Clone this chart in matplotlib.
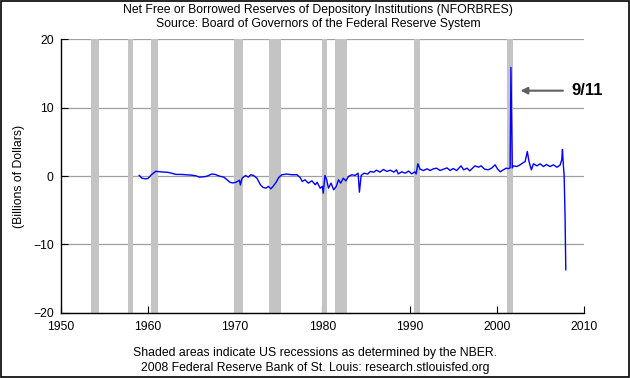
import matplotlib
matplotlib.use('Agg')
import matplotlib.pyplot as plt
from matplotlib.patches import Rectangle

plt.rcParams['font.family'] = ['Liberation Sans', 'DejaVu Sans']

# NBER recessions (start, end) in decimal years
recessions = [(1953.50, 1954.38), (1957.67, 1958.33), (1960.33, 1961.17),
              (1969.92, 1970.92), (1973.83, 1975.25), (1980.00, 1980.50),
              (1981.50, 1982.88), (1990.50, 1991.17), (2001.17, 2001.88)]

# NFORBRES (billions of dollars)
years = [1959.0, 1959.1, 1959.3, 1959.7, 1960.0, 1960.4, 1960.9, 1961.3, 1961.7, 1962.3,
         1962.8, 1963.2, 1963.8, 1964.3, 1964.9, 1965.5, 1965.9, 1966.4, 1966.8, 1967.3,
         1967.7, 1968.2, 1968.7, 1969.0, 1969.4, 1969.7, 1970.1, 1970.5, 1970.6, 1970.8,
         1971.2, 1971.5, 1971.8, 1972.1, 1972.5, 1972.9, 1973.2, 1973.55, 1973.8, 1974.1,
         1974.4, 1974.7, 1975.0, 1975.35, 1975.9, 1976.5, 1977.1, 1977.45, 1977.7, 1978.0,
         1978.4, 1978.8, 1979.2, 1979.4, 1979.75, 1980.0, 1980.1, 1980.3, 1980.5, 1980.7,
         1981.0, 1981.3, 1981.6, 1981.85, 1982.1, 1982.4, 1982.7, 1983.0, 1983.4, 1983.75,
         1984.1, 1984.25, 1984.45, 1984.8, 1985.2, 1985.5, 1985.9, 1986.2, 1986.6, 1987.0,
         1987.4, 1987.8, 1988.2, 1988.5, 1988.7, 1989.1, 1989.5, 1989.9, 1990.25, 1990.6,
         1990.75, 1990.95, 1991.2, 1991.6, 1992.0, 1992.35, 1992.75, 1993.1, 1993.5, 1993.9,
         1994.3, 1994.65, 1995.0, 1995.4, 1995.9, 1996.2, 1996.6, 1996.9, 1997.5, 1997.9,
         1998.2, 1998.6, 1999.0, 1999.4, 1999.8, 2000.1, 2000.4, 2000.75, 2001.07, 2001.35,
         2001.53, 2001.62, 2001.70, 2001.78, 2001.9, 2002.3, 2002.67, 2002.95, 2003.25, 2003.5,
         2003.7, 2003.97, 2004.2, 2004.6, 2004.97, 2005.35, 2005.7, 2006.1, 2006.5, 2006.9,
         2007.25, 2007.45, 2007.53, 2007.64, 2007.72, 2007.83, 2007.91]
values = [0.1, 0.0, -0.3, -0.4, -0.35, 0.2, 0.7, 0.65, 0.6, 0.55,
          0.4, 0.25, 0.25, 0.2, 0.15, 0.05, -0.15, -0.1, 0.0, 0.3,
          0.25, 0.0, -0.15, -0.45, -0.9, -1.0, -0.9, -0.6, -1.3, -0.3,
          0.1, -0.15, 0.2, 0.1, -0.3, -1.27, -1.66, -1.76, -1.5, -1.86,
          -1.42, -0.9, -0.2, 0.19, 0.3, 0.2, 0.2, -0.2, -0.78, -0.54,
          -1.03, -0.69, -1.27, -0.9, -1.76, -1.5, -2.5, 0.1, -0.54, -1.76,
          -1.03, -2.0, -1.5, -0.54, -1.03, -0.3, -0.7, -0.05, 0.2, 0.1,
          0.43, -2.35, 0.1, 0.43, 0.3, 0.68, 0.58, 0.87, 0.58, 0.97,
          0.68, 0.87, 0.58, 0.92, 0.33, 0.63, 0.43, 0.73, 0.33, 0.63,
          0.33, 1.8, 1.02, 0.82, 1.07, 0.82, 1.07, 1.16, 0.82, 1.02,
          1.2, 0.82, 1.11, 0.82, 1.5, 0.92, 1.16, 0.77, 1.5, 1.31,
          1.5, 1.02, 0.92, 1.16, 1.65, 1.02, 0.63, 0.92, 1.16, 1.1,
          1.2, 15.9, 9.0, 1.2, 1.5, 1.4, 1.65, 1.9, 2.13, 3.6,
          2.1, 0.92, 1.8, 1.5, 1.8, 1.4, 1.7, 1.4, 1.65, 1.3,
          1.6, 2.4, 3.9, 1.4, 0.2, -6.1, -13.7]

x_ticks = [1950, 1960, 1970, 1980, 1990, 2000, 2010]
y_ticks = [-20, -10, 0, 10, 20]

fig = plt.figure(figsize=(6.3, 3.78), dpi=100)
ax = fig.add_axes([0.0963, 0.1725, 0.8307, 0.7232])

for y in y_ticks:
    ax.axhline(y, color='#a0a0a0', lw=0.9, zorder=1)
for start, end in recessions:
    ax.axvspan(start, end, color='#c4c4c4', lw=0, zorder=2)
ax.plot(years, values, color='#0000ff', lw=1.0, zorder=3)

ax.set_xlim(1950, 2010)
ax.set_ylim(-20, 20)
ax.set_xticks(x_ticks)
ax.set_yticks(y_ticks)
ax.tick_params(direction='in', length=5, width=0.8, labelsize=8.8, colors='black')
ax.tick_params(axis='y', pad=5)
ax.tick_params(axis='x', pad=6)
for side in ['top', 'right']:
    ax.spines[side].set_visible(False)
for side in ['left', 'bottom']:
    ax.spines[side].set_linewidth(1.0)
ax.set_ylabel('(Billions of Dollars)', fontsize=8.8, labelpad=6)

# 9/11 marker
ax.annotate('', xy=(2002.4, 12.5), xytext=(2007.9, 12.5),
            arrowprops=dict(arrowstyle='-|>', color='#606060', lw=1.5,
                            mutation_scale=10), annotation_clip=False, zorder=4)
ax.text(2008.5, 12.5, '9/11', fontsize=12, fontweight='bold', va='center',
        ha='left', clip_on=False)

fig.text(0.505, 0.974, 'Net Free or Borrowed Reserves of Depository Institutions (NFORBRES)',
         ha='center', va='center', fontsize=8.8)
fig.text(0.505, 0.936, 'Source: Board of Governors of the Federal Reserve System',
         ha='center', va='center', fontsize=8.8)
fig.text(0.5, 0.067, 'Shaded areas indicate US recessions as determined by the NBER.',
         ha='center', va='center', fontsize=8.8)
fig.text(0.5, 0.027, '2008 Federal Reserve Bank of St. Louis: research.stlouisfed.org',
         ha='center', va='center', fontsize=8.8)

fig.patches.append(Rectangle((0.001, 0.002), 0.997, 0.996, transform=fig.transFigure,
                             fill=False, edgecolor='black', lw=1.2))

fig.savefig('out.png', dpi=100)
